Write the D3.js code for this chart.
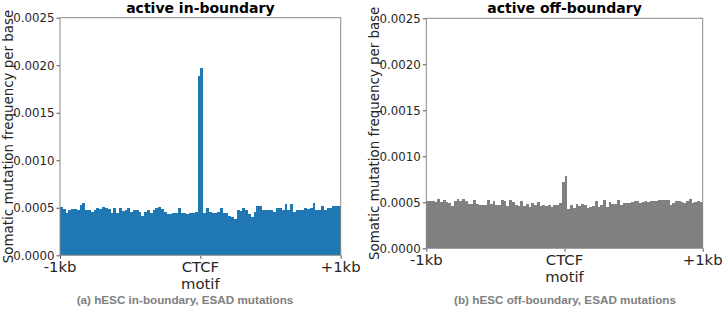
<!DOCTYPE html>
<html>
<head>
<meta charset="utf-8">
<script src="https://cdn.jsdelivr.net/npm/d3@7"></script>
<style>
  body { margin: 0; background: #fff; }
  svg { display: block; }
  .tick text { font-family: "DejaVu Sans", sans-serif; fill: #262626; }
  .domain { display: none; }
  .tick line { stroke: #555; }
  .frame { fill: none; stroke: #8a8a8a; stroke-width: 1; }
  .title { font-family: "DejaVu Sans", sans-serif; font-weight: bold; font-size: 14px; fill: #000; }
  .axis-title { font-family: "DejaVu Sans", sans-serif; font-size: 13.4px; fill: #262626; }
  .xlab { font-family: "DejaVu Sans", sans-serif; font-size: 14.8px; fill: #262626; }
  .caption { font-family: "Liberation Sans", Arial, sans-serif; font-weight: bold; font-size: 11.7px; fill: #808080; }
</style>
</head>
<body>
<div id="chart"></div>
<script>
// Mutation frequency per base, 100 bins from -1kb to +1kb around the CTCF motif
const inBoundary = [
  0.000507, 0.000486, 0.000444, 0.000472, 0.000486, 0.000486, 0.000479, 0.000528, 0.000549, 0.000479,
  0.000479, 0.000458, 0.000479, 0.000493, 0.000486, 0.000507, 0.000500, 0.000486, 0.000444, 0.000500,
  0.000444, 0.000493, 0.000465, 0.000472, 0.000500, 0.000458, 0.000472, 0.000479, 0.000458, 0.000415,
  0.000458, 0.000472, 0.000444, 0.000479, 0.000493, 0.000507, 0.000486, 0.000458, 0.000437, 0.000430,
  0.000444, 0.000444, 0.000493, 0.000444, 0.000444, 0.000430, 0.000444, 0.000444, 0.000451, 0.001890,
  0.001970, 0.000444, 0.000500, 0.000451, 0.000444, 0.000444, 0.000451, 0.000493, 0.000444, 0.000444,
  0.000415, 0.000401, 0.000387, 0.000479, 0.000465, 0.000493, 0.000479, 0.000430, 0.000401, 0.000458,
  0.000514, 0.000521, 0.000479, 0.000472, 0.000472, 0.000472, 0.000451, 0.000500, 0.000493, 0.000472,
  0.000535, 0.000479, 0.000535, 0.000458, 0.000479, 0.000472, 0.000479, 0.000493, 0.000486, 0.000500,
  0.000549, 0.000479, 0.000479, 0.000521, 0.000472, 0.000500, 0.000493, 0.000514, 0.000514, 0.000521
];

const offBoundary = [
  0.000514, 0.000511, 0.000518, 0.000504, 0.000533, 0.000504, 0.000525, 0.000504, 0.000489, 0.000460,
  0.000511, 0.000533, 0.000511, 0.000540, 0.000511, 0.000482, 0.000482, 0.000525, 0.000482, 0.000467,
  0.000475, 0.000467, 0.000525, 0.000482, 0.000518, 0.000475, 0.000467, 0.000525, 0.000518, 0.000460,
  0.000525, 0.000504, 0.000475, 0.000460, 0.000511, 0.000460, 0.000482, 0.000453, 0.000489, 0.000475,
  0.000504, 0.000460, 0.000467, 0.000460, 0.000475, 0.000453, 0.000467, 0.000467, 0.000489, 0.000725,
  0.000786, 0.000424, 0.000467, 0.000438, 0.000482, 0.000460, 0.000482, 0.000467, 0.000438, 0.000453,
  0.000460, 0.000511, 0.000446, 0.000467, 0.000525, 0.000453, 0.000504, 0.000482, 0.000482, 0.000525,
  0.000475, 0.000496, 0.000489, 0.000496, 0.000504, 0.000511, 0.000511, 0.000496, 0.000504, 0.000511,
  0.000504, 0.000518, 0.000511, 0.000518, 0.000525, 0.000525, 0.000525, 0.000525, 0.000467, 0.000489,
  0.000518, 0.000511, 0.000504, 0.000496, 0.000518, 0.000533, 0.000489, 0.000504, 0.000511, 0.000504
];

const yTicks = [0, 0.0005, 0.0010, 0.0015, 0.0020, 0.0025];
const xTickLabels = [['-1kb'], ['CTCF', 'motif'], ['+1kb']];
const titles = ['active in-boundary', 'active off-boundary'];
const captions = ['(a) hESC in-boundary, ESAD mutations', '(b) hESC off-boundary, ESAD mutations'];
const colors = ['#1f77b4', '#808080'];

const svg = d3.select('#chart')
  .append('svg')
    .attr('width', 724)
    .attr('height', 310);

// panel boxes (plot area)
const panels = [
  { values: inBoundary, x0: 60, x1: 340.7, y0: 17.7, y1: 255.3, yLabelX: 8, caption: { x: 185, y: 303.5 } },
  { values: offBoundary, x0: 426.3, x1: 702.7, y0: 18.3, y1: 248.3, yLabelX: 374, caption: { x: 565, y: 304 } }
];

panels.forEach((p, i) => {
  const x = d3.scaleBand()
      .domain(d3.range(p.values.length))
      .range([p.x0, p.x1])
      .padding(0);

  const y = d3.scaleLinear()
      .domain([0, 0.0025])
      .range([p.y1, p.y0]);

  const xPos = d3.scaleLinear()
      .domain([0, 2])
      .range([p.x0, p.x1]);

  const g = svg.append('g');

  g.selectAll('rect.bar')
    .data(p.values)
    .join('rect')
      .attr('class', 'bar')
      .attr('x', (d, j) => x(j))
      .attr('width', x.bandwidth())
      .attr('y', d => y(d))
      .attr('height', d => p.y1 - y(d))
      .attr('fill', colors[i])
      .attr('shape-rendering', 'crispEdges');

  // y axis
  g.append('g')
      .attr('transform', `translate(${p.x0},0)`)
      .call(d3.axisLeft(y).tickValues(yTicks).tickFormat(d3.format('.4f')).tickSize(3.5).tickPadding(2))
      .call(a => a.selectAll('text').style('font-size', '11.8px'));

  // x axis ticks
  g.append('g')
      .attr('transform', `translate(0,${p.y1})`)
      .call(d3.axisBottom(xPos).tickValues([0, 1, 2]).tickFormat('').tickSize(3.5));

  g.append('rect')
      .attr('class', 'frame')
      .attr('x', p.x0)
      .attr('y', p.y0)
      .attr('width', p.x1 - p.x0)
      .attr('height', p.y1 - p.y0);

  // x tick labels, one text per line
  const xBase = Math.min(p.y1 + 17, 272);
  xTickLabels.forEach((lines, k) => {
    lines.forEach((s, n) => {
      g.append('text')
          .attr('class', 'xlab')
          .attr('text-anchor', 'middle')
          .attr('x', xPos(k))
          .attr('y', xBase + n * 17)
          .text(s);
    });
  });

  g.append('text')
      .attr('class', 'title')
      .attr('text-anchor', 'middle')
      .attr('x', (p.x0 + p.x1) / 2)
      .attr('y', 13)
      .text(titles[i]);

  g.append('text')
      .attr('class', 'axis-title')
      .attr('text-anchor', 'middle')
      .attr('dy', '0.35em')
      .attr('transform', `translate(${p.yLabelX},${(p.y0 + p.y1) / 2}) rotate(-90)`)
      .text('Somatic mutation frequency per base');

  g.append('text')
      .attr('class', 'caption')
      .attr('text-anchor', 'middle')
      .attr('x', p.caption.x)
      .attr('y', p.caption.y)
      .text(captions[i]);
});
</script>
</body>
</html>
